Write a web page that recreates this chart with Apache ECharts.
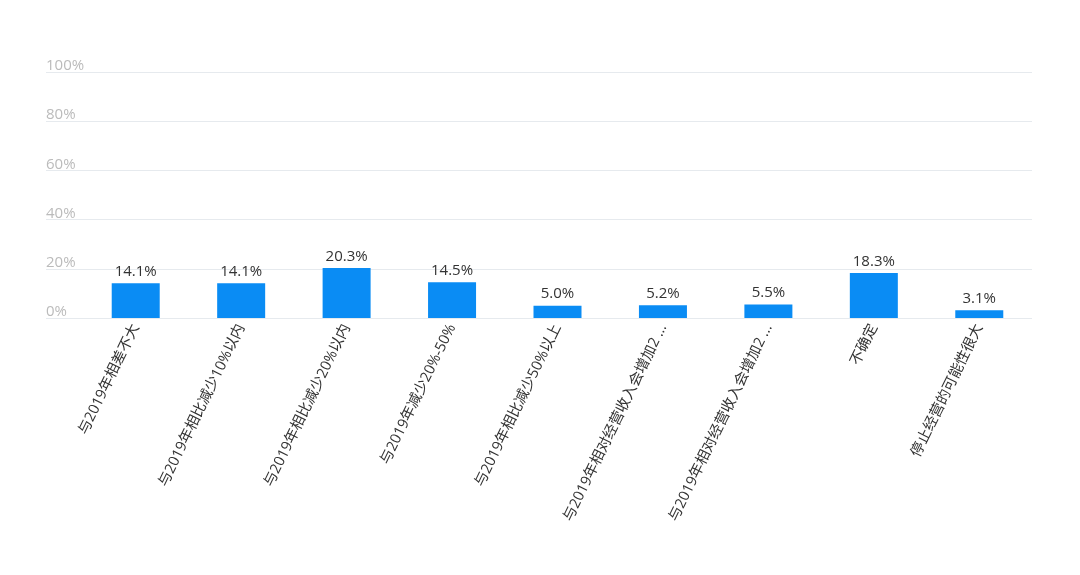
<!DOCTYPE html>
<html>
<head>
<meta charset="utf-8">
<script src="https://cdn.jsdelivr.net/npm/echarts@6/dist/echarts.min.js"></script>
<style>html,body{margin:0;padding:0;background:#fff;}#c{width:1080px;height:575px;}</style>
</head>
<body>
<div id="c"></div>
<script>
const categories = [
  '与2019年相差不大',
  '与2019年相比减少10%以内',
  '与2019年相比减少20%以内',
  '与2019年减少20%-50%',
  '与2019年相比减少50%以上',
  '与2019年相对经营收入会增加2 ...',
  '与2019年相对经营收入会增加2 ...',
  '不确定',
  '停止经营的可能性很大'
];
const values = [14.1, 14.1, 20.3, 14.5, 5.0, 5.2, 5.5, 18.3, 3.1];
const yTicks = [0, 20, 40, 60, 80, 100];

const font = '"Open Sans", "Noto Sans CJK SC", sans-serif';
const chart = echarts.init(document.getElementById('c'), null, {renderer: 'canvas'});
chart.setOption({
  animation: false,
  textStyle: {fontFamily: font},
  grid: [
    {left: 46, right: 48, top: 72, bottom: 257},
    {left: 83, right: 48, top: 72, bottom: 257}
  ],
  xAxis: [
    {gridIndex: 0, type: 'category', data: [''], show: false},
    {
      gridIndex: 1, type: 'category', data: categories,
      axisLine: {show: false},
      axisTick: {show: false},
      axisLabel: {
        interval: 0, rotate: 64, margin: 7,
        color: '#333', fontSize: 14.6, fontFamily: font
      }
    }
  ],
  yAxis: [
    {
      gridIndex: 0, type: 'value', min: yTicks[0], max: yTicks[yTicks.length - 1], interval: 20,
      axisLine: {show: false}, axisTick: {show: false},
      splitLine: {lineStyle: {color: '#e6eaee', width: 1}},
      axisLabel: {
        inside: true, margin: 0, verticalAlign: 'bottom', lineHeight: 12,
        color: '#bbbbbb', fontSize: 15, fontFamily: font,
        formatter: v => v + '%'
      }
    },
    {
      gridIndex: 1, type: 'value', min: 0, max: 100, interval: 20,
      show: false, splitLine: {show: false}
    }
  ],
  series: [{
    type: 'bar',
    xAxisIndex: 1, yAxisIndex: 1,
    data: values,
    barWidth: 48,
    itemStyle: {color: '#0a8cf4'},
    label: {
      show: true, position: 'top', distance: 4,
      color: '#333', fontSize: 15, fontFamily: font,
      formatter: p => p.value.toFixed(1) + '%'
    }
  }]
});
</script>
</body>
</html>
